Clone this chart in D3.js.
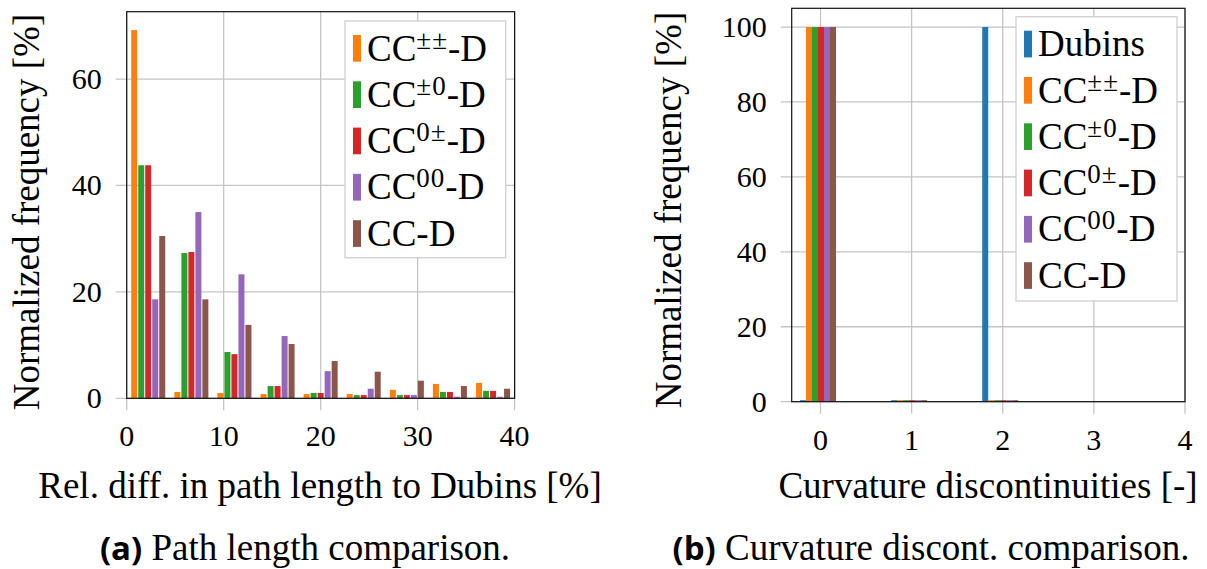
<!DOCTYPE html>
<html>
<head>
<meta charset="utf-8">
<script src="https://cdn.jsdelivr.net/npm/d3@7"></script>
<style>
  html, body { margin: 0; padding: 0; background: #fff; }
  svg { display: block; }
  text { font-family: "Liberation Serif", serif; fill: #000; }
</style>
</head>
<body>
<svg id="chart" width="1207" height="569"></svg>
<script>
// ---------------- data ----------------
// (a) Path length comparison: 9 bins over 0..40 %
const lengthBins = [2.22, 6.67, 11.11, 15.56, 20.0, 24.44, 28.89, 33.33, 37.78];
const lengthCCpp = [69.2, 1.2, 1.0, 0.8, 0.8, 0.8, 1.6, 2.7, 2.9];
const lengthCCp0 = [43.8, 27.3, 8.7, 2.3, 1.0, 0.6, 0.6, 1.2, 1.4];
const lengthCC0p = [43.8, 27.5, 8.3, 2.3, 1.0, 0.6, 0.6, 1.2, 1.4];
const lengthCC00 = [18.6, 35.0, 23.3, 11.7, 5.1, 1.8, 0.6, 0.3, 0.1];
const lengthCCD  = [30.5, 18.6, 13.8, 10.2, 7.0, 5.0, 3.3, 2.3, 1.8];
const lengthXTicks = [0, 10, 20, 30, 40];
const lengthYTicks = [0, 20, 40, 60];

// (b) Curvature discontinuities
const curvBins   = [0, 1, 2];
const curvDubins = [0, 0, 100];
const curvCCpp   = [100, 0, 0];
const curvCCp0   = [100, 0, 0];
const curvCC0p   = [100, 0, 0];
const curvCC00   = [100, 0, 0];
const curvCCD    = [100, 0, 0];
const curvXTicks = [0, 1, 2, 3, 4];
const curvYTicks = [0, 20, 40, 60, 80, 100];

// legend labels: base, superscript, suffix
const seriesNames = ["Dubins", "CC±±-D", "CC±0-D", "CC0±-D", "CC00-D", "CC-D"];
const legendBase = ["Dubins", "CC", "CC", "CC", "CC", "CC-D"];
const legendSup  = ["", "±±", "±0", "0±", "00", ""];
const legendSuf  = ["", "-D", "-D", "-D", "-D", ""];
const seriesColors = ["#1f77b4", "#ff7f0e", "#2ca02c", "#d62728", "#9467bd", "#8c564b"];

const xLabelA = "Rel. diff. in path length to Dubins [%]";
const xLabelB = "Curvature discontinuities [-]";
const yLabel = "Normalized frequency [%]";
const captionA = ["(a)", " Path length comparison."];
const captionB = ["(b)", " Curvature discont. comparison."];

// ---------------- drawing ----------------
const svg = d3.select("#chart");
const GRID = "#c4c4c4";

function panel(cfg) {
  const g = svg.append("g");
  const x = d3.scaleLinear().domain(cfg.xDomain).range([cfg.left, cfg.right]);
  const y = d3.scaleLinear().domain(cfg.yDomain).range([cfg.bottom, cfg.top]);

  // grid
  g.append("g").selectAll("line.v").data(cfg.xTicks).join("line")
    .attr("x1", d => x(d)).attr("x2", d => x(d))
    .attr("y1", cfg.top).attr("y2", cfg.bottom + 12)
    .attr("stroke", GRID).attr("stroke-width", 1.3);
  g.append("g").selectAll("line.h").data(cfg.yTicks).join("line")
    .attr("x1", cfg.left - 11).attr("x2", cfg.right)
    .attr("y1", d => y(d)).attr("y2", d => y(d))
    .attr("stroke", GRID).attr("stroke-width", 1.3);

  // bars
  const n = cfg.series.length;
  cfg.series.forEach((vals, k) => {
    g.append("g").selectAll("rect").data(vals.map((v, i) => ({v, c: cfg.bins[i]}))).join("rect")
      .attr("x", d => x(d.c) + cfg.shift + (k - (n - 1) / 2) * cfg.pitch - cfg.barW / 2)
      .attr("width", cfg.barW)
      .attr("y", d => Math.min(y(d.v), y(0) - 1.5))
      .attr("height", d => Math.max(y(0) - y(d.v), 1.5))
      .attr("fill", cfg.colors[k]);
  });

  // frame
  g.append("rect").attr("x", cfg.left).attr("y", cfg.top)
    .attr("width", cfg.right - cfg.left).attr("height", cfg.bottom - cfg.top)
    .attr("fill", "none").attr("stroke", "#111").attr("stroke-width", 1.2);

  // tick labels
  g.append("g").selectAll("text").data(cfg.xTicks).join("text")
    .attr("x", d => x(d)).attr("y", cfg.bottom + 48)
    .attr("text-anchor", "middle").attr("font-size", 30)
    .text(d => d);
  g.append("g").selectAll("text").data(cfg.yTicks).join("text")
    .attr("x", cfg.left - 25).attr("y", d => y(d) + 10)
    .attr("text-anchor", "end").attr("font-size", 30)
    .text(d => d);

  // axis labels
  g.append("text").attr("x", cfg.xLabelX).attr("y", 498)
    .attr("text-anchor", "middle").attr("font-size", 37).text(cfg.xLabel);
  g.append("text")
    .attr("transform", `translate(${cfg.yLabelX},${cfg.yLabelY}) rotate(-90)`)
    .attr("text-anchor", "middle").attr("font-size", 37).text(yLabel);

  // legend
  const L = cfg.legend;
  g.append("rect").attr("x", L.x).attr("y", L.y).attr("width", L.w).attr("height", L.h)
    .attr("fill", "#fff").attr("stroke", "#cfcfcf").attr("stroke-width", 1.3);
  L.idx.forEach((si, j) => {
    const top = L.y + 14 + j * 46.3;
    g.append("rect").attr("x", L.x + 8).attr("y", top).attr("width", 8).attr("height", 26.7)
      .attr("fill", seriesColors[si]);
    const t = g.append("text").attr("x", L.x + 22).attr("y", top + 25.5).attr("font-size", 37);
    t.append("tspan").text(legendBase[si]);
    if (legendSup[si]) {
      t.append("tspan").attr("font-size", 27).attr("dy", -12).attr("letter-spacing", 1).text(legendSup[si]);
      t.append("tspan").attr("dy", 12).text(legendSuf[si]);
    }
  });

  // caption
  const c = g.append("text").attr("x", cfg.capX).attr("y", 560)
    .attr("text-anchor", "middle").attr("font-size", 37);
  c.append("tspan").attr("font-family", "'Open Sans', sans-serif").attr("font-weight", "bold")
    .attr("font-size", 33).text(cfg.caption[0]);
  c.append("tspan").text(cfg.caption[1]);
}

const leftSeries = [lengthCCpp, lengthCCp0, lengthCC0p, lengthCC00, lengthCCD];
panel({
  left: 126.7, right: 514.6, top: 11.7, bottom: 398.3,
  xDomain: [0, 40], yDomain: [0, d3.max(leftSeries.flat()) * 1.05],
  xTicks: lengthXTicks, yTicks: lengthYTicks,
  bins: lengthBins, series: leftSeries, colors: seriesColors.slice(1),
  pitch: 7, barW: 6, shift: 0,
  xLabel: xLabelA, xLabelX: 320, yLabelX: 39, yLabelY: 212,
  legend: {x: 345, y: 21, w: 160.7, h: 236.7, idx: [1, 2, 3, 4, 5]},
  caption: captionA, capX: 305
});

const rightSeries = [curvDubins, curvCCpp, curvCCp0, curvCC0p, curvCC00, curvCCD];
panel({
  left: 791.7, right: 1185, top: 8.3, bottom: 401.7,
  xDomain: [-0.316, 4], yDomain: [0, d3.max(rightSeries.flat()) * 1.05],
  xTicks: curvXTicks, yTicks: curvYTicks,
  bins: curvBins, series: rightSeries, colors: seriesColors,
  pitch: 6, barW: 6, shift: -2.5,
  xLabel: xLabelB, xLabelX: 988, yLabelX: 681, yLabelY: 210,
  legend: {x: 1016, y: 16.7, w: 161, h: 284.3, idx: [0, 1, 2, 3, 4, 5]},
  caption: captionB, capX: 931
});
</script>
</body>
</html>
